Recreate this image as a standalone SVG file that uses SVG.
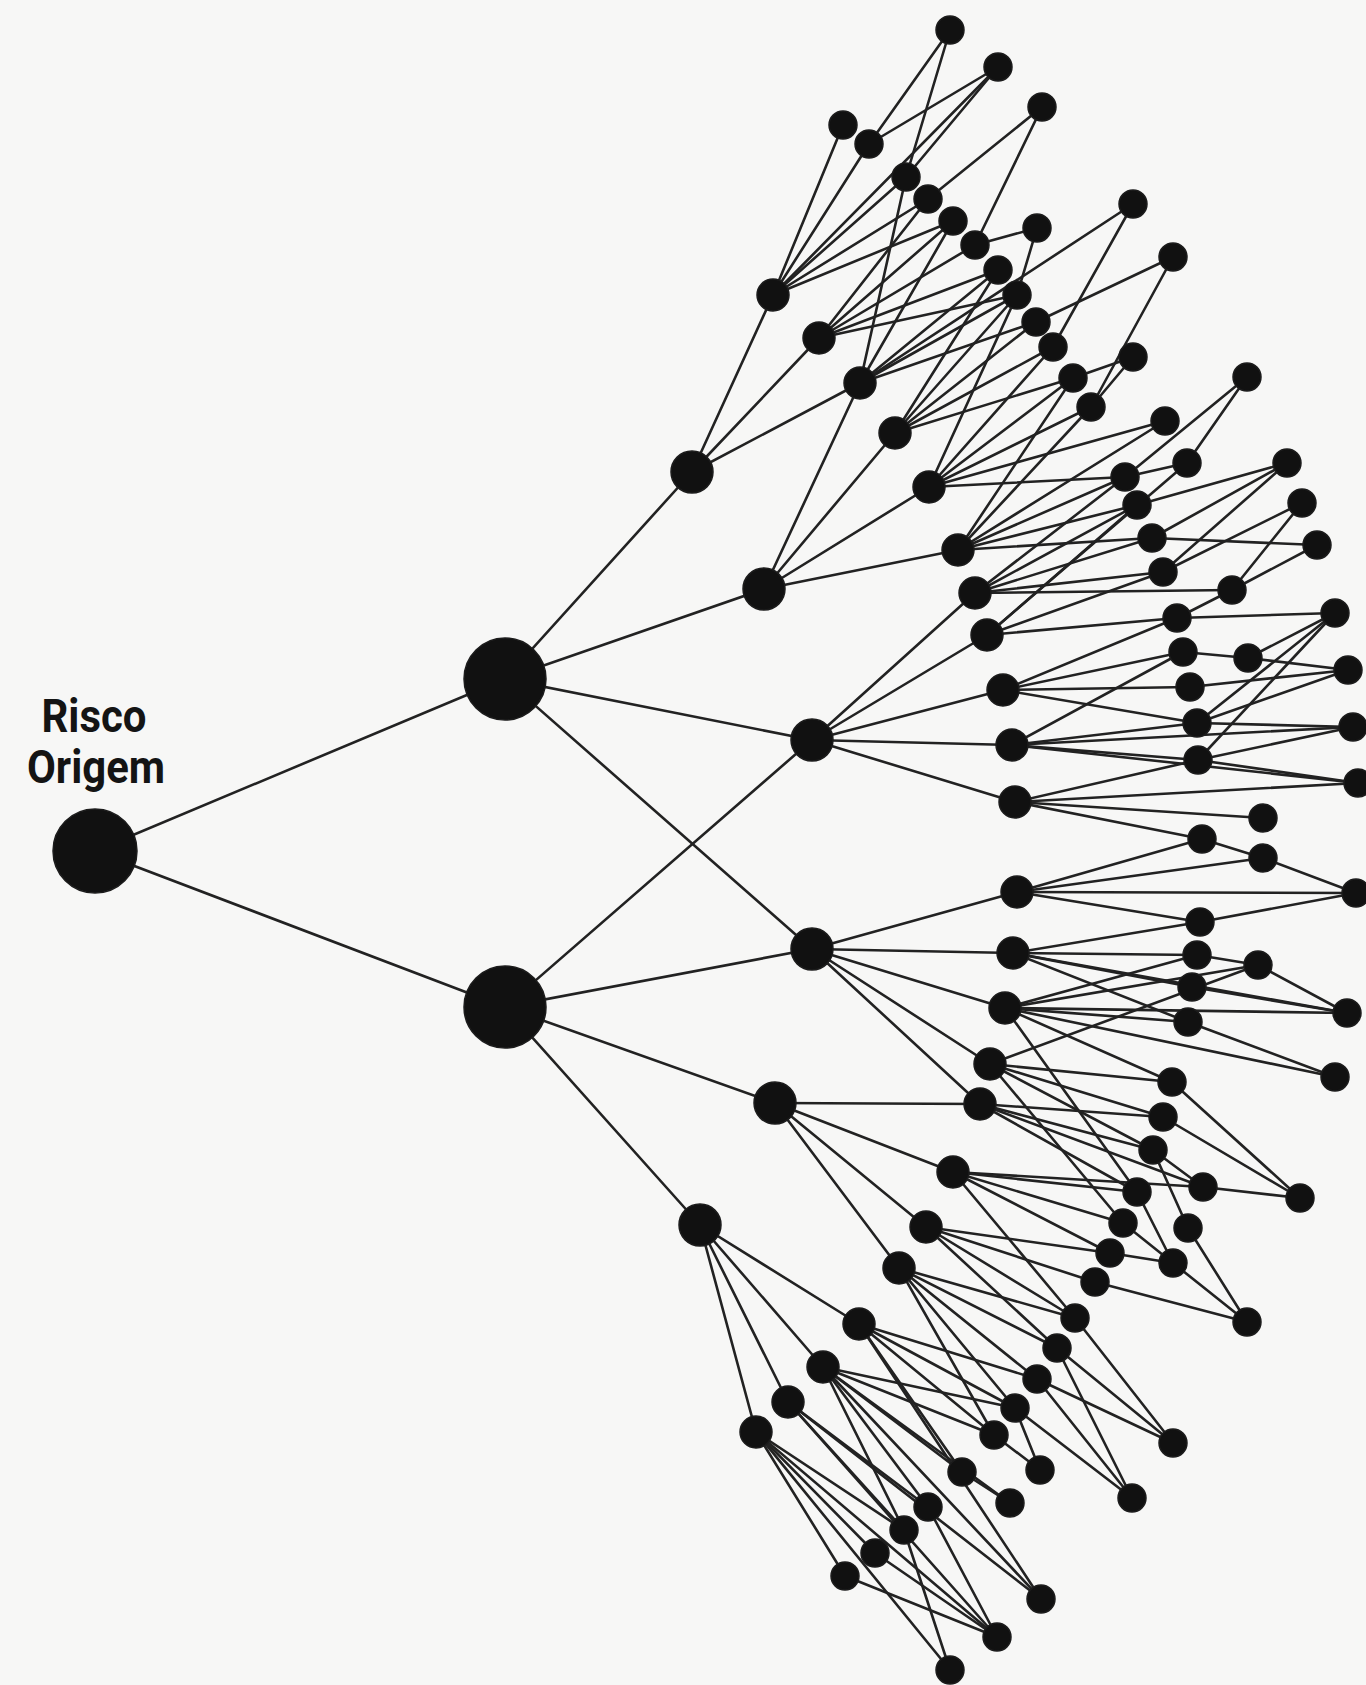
<svg xmlns="http://www.w3.org/2000/svg" width="1366" height="1685" viewBox="0 0 1366 1685">
<style>
.e line{stroke:#222;stroke-width:2.6;stroke-linecap:round}
.n0 circle{fill:#111;stroke:#1c1c1c;stroke-width:1.5}
.lbl{font-family:Roboto,"Liberation Sans",sans-serif;font-weight:700;font-size:46px;fill:#141414;text-anchor:middle}
</style>
<rect width="1366" height="1685" fill="#f7f7f6"/>
<text class="lbl" x="94" y="732" textLength="105" lengthAdjust="spacingAndGlyphs">Risco</text>
<text class="lbl" x="96" y="783" textLength="138" lengthAdjust="spacingAndGlyphs">Origem</text>
<g id="connectors" class="e">
<line x1="95" y1="851" x2="505" y2="679"/><line x1="95" y1="851" x2="505" y2="1007"/>
<line x1="505" y1="679" x2="692" y2="472"/><line x1="505" y1="679" x2="764" y2="589"/><line x1="505" y1="679" x2="812" y2="740"/><line x1="505" y1="679" x2="812" y2="949"/>
<line x1="505" y1="1007" x2="812" y2="740"/><line x1="505" y1="1007" x2="812" y2="949"/><line x1="505" y1="1007" x2="775" y2="1103"/><line x1="505" y1="1007" x2="700" y2="1225"/>
<line x1="692" y1="472" x2="773" y2="295"/><line x1="692" y1="472" x2="819" y2="338"/><line x1="692" y1="472" x2="860" y2="383"/>
<line x1="764" y1="589" x2="860" y2="383"/><line x1="764" y1="589" x2="895" y2="433"/><line x1="764" y1="589" x2="929" y2="487"/><line x1="764" y1="589" x2="958" y2="550"/>
<line x1="812" y1="740" x2="975" y2="593"/><line x1="812" y1="740" x2="987" y2="635"/><line x1="812" y1="740" x2="1003" y2="690"/><line x1="812" y1="740" x2="1012" y2="745"/><line x1="812" y1="740" x2="1015" y2="802"/>
<line x1="812" y1="949" x2="1017" y2="892"/><line x1="812" y1="949" x2="1013" y2="953"/><line x1="812" y1="949" x2="1005" y2="1008"/><line x1="812" y1="949" x2="990" y2="1064"/><line x1="812" y1="949" x2="980" y2="1104"/>
<line x1="775" y1="1103" x2="980" y2="1104"/><line x1="775" y1="1103" x2="953" y2="1172"/><line x1="775" y1="1103" x2="926" y2="1227"/><line x1="775" y1="1103" x2="899" y2="1268"/>
<line x1="700" y1="1225" x2="859" y2="1324"/><line x1="700" y1="1225" x2="823" y2="1367"/><line x1="700" y1="1225" x2="788" y2="1402"/><line x1="700" y1="1225" x2="756" y2="1432"/>
<line x1="773" y1="295" x2="843" y2="125"/><line x1="773" y1="295" x2="869" y2="144"/><line x1="773" y1="295" x2="998" y2="67"/><line x1="773" y1="295" x2="906" y2="177"/><line x1="773" y1="295" x2="928" y2="199"/><line x1="773" y1="295" x2="953" y2="221"/>
<line x1="950" y1="30" x2="869" y2="144"/><line x1="950" y1="30" x2="906" y2="177"/>
<line x1="998" y1="67" x2="869" y2="144"/><line x1="998" y1="67" x2="906" y2="177"/>
<line x1="1042" y1="107" x2="928" y2="199"/><line x1="1042" y1="107" x2="975" y2="245"/>
<line x1="1037" y1="228" x2="975" y2="245"/><line x1="1037" y1="228" x2="1017" y2="295"/>
<line x1="819" y1="338" x2="928" y2="199"/><line x1="819" y1="338" x2="953" y2="221"/><line x1="819" y1="338" x2="975" y2="245"/><line x1="819" y1="338" x2="998" y2="270"/><line x1="819" y1="338" x2="1017" y2="295"/>
<line x1="860" y1="383" x2="906" y2="177"/><line x1="860" y1="383" x2="953" y2="221"/><line x1="860" y1="383" x2="998" y2="270"/><line x1="860" y1="383" x2="1017" y2="295"/><line x1="860" y1="383" x2="1036" y2="322"/><line x1="860" y1="383" x2="1133" y2="204"/>
<line x1="895" y1="433" x2="998" y2="270"/><line x1="895" y1="433" x2="1017" y2="295"/><line x1="895" y1="433" x2="1036" y2="322"/><line x1="895" y1="433" x2="1053" y2="347"/><line x1="895" y1="433" x2="1073" y2="378"/>
<line x1="929" y1="487" x2="1017" y2="295"/><line x1="929" y1="487" x2="1053" y2="347"/><line x1="929" y1="487" x2="1073" y2="378"/><line x1="929" y1="487" x2="1091" y2="407"/><line x1="929" y1="487" x2="1165" y2="421"/><line x1="929" y1="487" x2="1125" y2="477"/>
<line x1="958" y1="550" x2="1073" y2="378"/><line x1="958" y1="550" x2="1091" y2="407"/><line x1="958" y1="550" x2="1165" y2="421"/><line x1="958" y1="550" x2="1125" y2="477"/><line x1="958" y1="550" x2="1137" y2="505"/><line x1="958" y1="550" x2="1152" y2="538"/>
<line x1="1133" y1="204" x2="1053" y2="347"/>
<line x1="1173" y1="257" x2="1036" y2="322"/><line x1="1173" y1="257" x2="1091" y2="407"/>
<line x1="1133" y1="357" x2="1073" y2="378"/><line x1="1133" y1="357" x2="1091" y2="407"/>
<line x1="1247" y1="377" x2="1187" y2="463"/><line x1="1247" y1="377" x2="1125" y2="477"/>
<line x1="1187" y1="463" x2="1125" y2="477"/><line x1="1187" y1="463" x2="987" y2="635"/>
<line x1="975" y1="593" x2="1125" y2="477"/><line x1="975" y1="593" x2="1137" y2="505"/><line x1="975" y1="593" x2="1152" y2="538"/><line x1="975" y1="593" x2="1163" y2="572"/><line x1="975" y1="593" x2="1232" y2="590"/>
<line x1="987" y1="635" x2="1137" y2="505"/><line x1="987" y1="635" x2="1163" y2="572"/><line x1="987" y1="635" x2="1177" y2="618"/>
<line x1="1287" y1="463" x2="1137" y2="505"/><line x1="1287" y1="463" x2="1152" y2="538"/><line x1="1287" y1="463" x2="1163" y2="572"/>
<line x1="1302" y1="503" x2="1163" y2="572"/><line x1="1302" y1="503" x2="1232" y2="590"/>
<line x1="1317" y1="545" x2="1152" y2="538"/><line x1="1317" y1="545" x2="1232" y2="590"/>
<line x1="1232" y1="590" x2="1177" y2="618"/>
<line x1="1003" y1="690" x2="1177" y2="618"/><line x1="1003" y1="690" x2="1183" y2="652"/><line x1="1003" y1="690" x2="1190" y2="687"/><line x1="1003" y1="690" x2="1197" y2="723"/>
<line x1="1012" y1="745" x2="1183" y2="652"/><line x1="1012" y1="745" x2="1197" y2="723"/><line x1="1012" y1="745" x2="1198" y2="760"/><line x1="1012" y1="745" x2="1353" y2="727"/><line x1="1012" y1="745" x2="1358" y2="783"/>
<line x1="1015" y1="802" x2="1198" y2="760"/><line x1="1015" y1="802" x2="1263" y2="818"/><line x1="1015" y1="802" x2="1202" y2="839"/><line x1="1015" y1="802" x2="1358" y2="783"/>
<line x1="1335" y1="613" x2="1177" y2="618"/><line x1="1335" y1="613" x2="1248" y2="658"/><line x1="1335" y1="613" x2="1197" y2="723"/><line x1="1335" y1="613" x2="1198" y2="760"/>
<line x1="1348" y1="670" x2="1248" y2="658"/><line x1="1348" y1="670" x2="1197" y2="723"/><line x1="1348" y1="670" x2="1190" y2="687"/>
<line x1="1248" y1="658" x2="1183" y2="652"/>
<line x1="1353" y1="727" x2="1197" y2="723"/><line x1="1353" y1="727" x2="1198" y2="760"/>
<line x1="1358" y1="783" x2="1198" y2="760"/>
<line x1="1017" y1="892" x2="1202" y2="839"/><line x1="1017" y1="892" x2="1263" y2="858"/><line x1="1017" y1="892" x2="1356" y2="893"/><line x1="1017" y1="892" x2="1200" y2="922"/>
<line x1="1202" y1="839" x2="1263" y2="858"/><line x1="1263" y1="858" x2="1356" y2="893"/><line x1="1200" y1="922" x2="1356" y2="893"/>
<line x1="1013" y1="953" x2="1200" y2="922"/><line x1="1013" y1="953" x2="1197" y2="955"/><line x1="1013" y1="953" x2="1192" y2="987"/><line x1="1013" y1="953" x2="1188" y2="1022"/><line x1="1013" y1="953" x2="1347" y2="1013"/>
<line x1="1005" y1="1008" x2="1197" y2="955"/><line x1="1005" y1="1008" x2="1258" y2="965"/><line x1="1005" y1="1008" x2="1188" y2="1022"/><line x1="1005" y1="1008" x2="1347" y2="1013"/><line x1="1005" y1="1008" x2="1335" y2="1077"/><line x1="1005" y1="1008" x2="1172" y2="1082"/><line x1="1005" y1="1008" x2="1137" y2="1192"/>
<line x1="990" y1="1064" x2="1258" y2="965"/><line x1="990" y1="1064" x2="1172" y2="1082"/><line x1="990" y1="1064" x2="1163" y2="1117"/><line x1="990" y1="1064" x2="1153" y2="1150"/><line x1="990" y1="1064" x2="1123" y2="1223"/>
<line x1="980" y1="1104" x2="1163" y2="1117"/><line x1="980" y1="1104" x2="1153" y2="1150"/><line x1="980" y1="1104" x2="1137" y2="1192"/><line x1="980" y1="1104" x2="1203" y2="1187"/>
<line x1="1258" y1="965" x2="1197" y2="955"/><line x1="1258" y1="965" x2="1347" y2="1013"/><line x1="1192" y1="987" x2="1347" y2="1013"/><line x1="1188" y1="1022" x2="1335" y2="1077"/>
<line x1="1300" y1="1198" x2="1172" y2="1082"/><line x1="1300" y1="1198" x2="1163" y2="1117"/><line x1="1300" y1="1198" x2="1203" y2="1187"/>
<line x1="1153" y1="1150" x2="1203" y2="1187"/><line x1="1153" y1="1150" x2="1188" y2="1228"/>
<line x1="953" y1="1172" x2="1203" y2="1187"/><line x1="953" y1="1172" x2="1137" y2="1192"/><line x1="953" y1="1172" x2="1123" y2="1223"/><line x1="953" y1="1172" x2="1110" y2="1253"/><line x1="953" y1="1172" x2="1075" y2="1318"/>
<line x1="926" y1="1227" x2="1110" y2="1253"/><line x1="926" y1="1227" x2="1095" y2="1282"/><line x1="926" y1="1227" x2="1075" y2="1318"/><line x1="926" y1="1227" x2="1057" y2="1348"/>
<line x1="899" y1="1268" x2="1075" y2="1318"/><line x1="899" y1="1268" x2="1057" y2="1348"/><line x1="899" y1="1268" x2="1037" y2="1379"/><line x1="899" y1="1268" x2="1015" y2="1408"/><line x1="899" y1="1268" x2="994" y2="1435"/>
<line x1="859" y1="1324" x2="1037" y2="1379"/><line x1="859" y1="1324" x2="1015" y2="1408"/><line x1="859" y1="1324" x2="994" y2="1435"/><line x1="859" y1="1324" x2="962" y2="1472"/><line x1="859" y1="1324" x2="1041" y2="1599"/>
<line x1="823" y1="1367" x2="1015" y2="1408"/><line x1="823" y1="1367" x2="994" y2="1435"/><line x1="823" y1="1367" x2="962" y2="1472"/><line x1="823" y1="1367" x2="1010" y2="1503"/><line x1="823" y1="1367" x2="928" y2="1507"/><line x1="823" y1="1367" x2="904" y2="1530"/><line x1="823" y1="1367" x2="1041" y2="1599"/>
<line x1="788" y1="1402" x2="928" y2="1507"/><line x1="788" y1="1402" x2="904" y2="1530"/><line x1="788" y1="1402" x2="997" y2="1637"/><line x1="788" y1="1402" x2="1041" y2="1599"/>
<line x1="756" y1="1432" x2="904" y2="1530"/><line x1="756" y1="1432" x2="875" y2="1553"/><line x1="756" y1="1432" x2="845" y2="1576"/><line x1="756" y1="1432" x2="950" y2="1670"/><line x1="756" y1="1432" x2="997" y2="1637"/>
<line x1="962" y1="1472" x2="1010" y2="1503"/><line x1="928" y1="1507" x2="997" y2="1637"/><line x1="904" y1="1530" x2="950" y2="1670"/><line x1="875" y1="1553" x2="997" y2="1637"/><line x1="845" y1="1576" x2="997" y2="1637"/>
<line x1="1110" y1="1253" x2="1173" y2="1263"/><line x1="1137" y1="1192" x2="1173" y2="1263"/><line x1="1123" y1="1223" x2="1173" y2="1263"/>
<line x1="1247" y1="1322" x2="1095" y2="1282"/><line x1="1247" y1="1322" x2="1173" y2="1263"/><line x1="1247" y1="1322" x2="1188" y2="1228"/>
<line x1="1173" y1="1443" x2="1075" y2="1318"/><line x1="1173" y1="1443" x2="1057" y2="1348"/><line x1="1173" y1="1443" x2="1037" y2="1379"/>
<line x1="1132" y1="1498" x2="1057" y2="1348"/><line x1="1132" y1="1498" x2="1037" y2="1379"/><line x1="1132" y1="1498" x2="1015" y2="1408"/>
<line x1="1040" y1="1470" x2="1015" y2="1408"/><line x1="1040" y1="1470" x2="994" y2="1435"/>
</g>
<g id="nodes" class="n0">
<g id="root"><circle cx="95" cy="851" r="42"/></g>
<g id="L1-upper"><circle cx="505" cy="679" r="41"/></g>
<g id="L1-lower"><circle cx="505" cy="1007" r="41"/></g>
<g id="A"><circle cx="692" cy="472" r="21"/></g>
<g id="B"><circle cx="764" cy="589" r="21"/></g>
<g id="C"><circle cx="812" cy="740" r="21"/></g>
<g id="D"><circle cx="812" cy="949" r="21"/></g>
<g id="E"><circle cx="775" cy="1103" r="21"/></g>
<g id="F"><circle cx="700" cy="1225" r="21"/></g>
<g id="a1"><circle cx="773" cy="295" r="16"/></g>
<g id="a2"><circle cx="819" cy="338" r="16"/></g>
<g id="a3"><circle cx="860" cy="383" r="16"/></g>
<g id="b1"><circle cx="895" cy="433" r="16"/></g>
<g id="b2"><circle cx="929" cy="487" r="16"/></g>
<g id="b3"><circle cx="958" cy="550" r="16"/></g>
<g id="c1"><circle cx="975" cy="593" r="16"/></g>
<g id="c2"><circle cx="987" cy="635" r="16"/></g>
<g id="c3"><circle cx="1003" cy="690" r="16"/></g>
<g id="c4"><circle cx="1012" cy="745" r="16"/></g>
<g id="c5"><circle cx="1015" cy="802" r="16"/></g>
<g id="d1"><circle cx="1017" cy="892" r="16"/></g>
<g id="d2"><circle cx="1013" cy="953" r="16"/></g>
<g id="d3"><circle cx="1005" cy="1008" r="16"/></g>
<g id="d4"><circle cx="990" cy="1064" r="16"/></g>
<g id="d5"><circle cx="980" cy="1104" r="16"/></g>
<g id="e2"><circle cx="953" cy="1172" r="16"/></g>
<g id="e3"><circle cx="926" cy="1227" r="16"/></g>
<g id="e4"><circle cx="899" cy="1268" r="16"/></g>
<g id="f1"><circle cx="859" cy="1324" r="16"/></g>
<g id="f2"><circle cx="823" cy="1367" r="16"/></g>
<g id="f3"><circle cx="788" cy="1402" r="16"/></g>
<g id="f4"><circle cx="756" cy="1432" r="16"/></g>
<g id="t1"><circle cx="950" cy="30" r="14"/></g>
<g id="t2"><circle cx="998" cy="67" r="14"/></g>
<g id="t3"><circle cx="1042" cy="107" r="14"/></g>
<g id="t4"><circle cx="843" cy="125" r="14"/></g>
<g id="t5"><circle cx="869" cy="144" r="14"/></g>
<g id="t6"><circle cx="906" cy="177" r="14"/></g>
<g id="t7"><circle cx="928" cy="199" r="14"/></g>
<g id="t8"><circle cx="953" cy="221" r="14"/></g>
<g id="t9"><circle cx="975" cy="245" r="14"/></g>
<g id="t10"><circle cx="998" cy="270" r="14"/></g>
<g id="t11"><circle cx="1017" cy="295" r="14"/></g>
<g id="t12"><circle cx="1036" cy="322" r="14"/></g>
<g id="t13"><circle cx="1053" cy="347" r="14"/></g>
<g id="t14"><circle cx="1073" cy="378" r="14"/></g>
<g id="t15"><circle cx="1091" cy="407" r="14"/></g>
<g id="t16"><circle cx="1037" cy="228" r="14"/></g>
<g id="t17"><circle cx="1133" cy="204" r="14"/></g>
<g id="t18"><circle cx="1173" cy="257" r="14"/></g>
<g id="t19"><circle cx="1133" cy="357" r="14"/></g>
<g id="t20"><circle cx="1247" cy="377" r="14"/></g>
<g id="t21"><circle cx="1165" cy="421" r="14"/></g>
<g id="m1"><circle cx="1187" cy="463" r="14"/></g>
<g id="m2"><circle cx="1125" cy="477" r="14"/></g>
<g id="m3"><circle cx="1137" cy="505" r="14"/></g>
<g id="m4"><circle cx="1152" cy="538" r="14"/></g>
<g id="m5"><circle cx="1163" cy="572" r="14"/></g>
<g id="m6"><circle cx="1232" cy="590" r="14"/></g>
<g id="m7"><circle cx="1177" cy="618" r="14"/></g>
<g id="m8"><circle cx="1183" cy="652" r="14"/></g>
<g id="m9"><circle cx="1190" cy="687" r="14"/></g>
<g id="m10"><circle cx="1197" cy="723" r="14"/></g>
<g id="m11"><circle cx="1198" cy="760" r="14"/></g>
<g id="m12"><circle cx="1248" cy="658" r="14"/></g>
<g id="m13"><circle cx="1263" cy="818" r="14"/></g>
<g id="m14"><circle cx="1202" cy="839" r="14"/></g>
<g id="m15"><circle cx="1263" cy="858" r="14"/></g>
<g id="r1"><circle cx="1287" cy="463" r="14"/></g>
<g id="r2"><circle cx="1302" cy="503" r="14"/></g>
<g id="r3"><circle cx="1317" cy="545" r="14"/></g>
<g id="r4"><circle cx="1335" cy="613" r="14"/></g>
<g id="r5"><circle cx="1348" cy="670" r="14"/></g>
<g id="r6"><circle cx="1353" cy="727" r="14"/></g>
<g id="r7"><circle cx="1358" cy="783" r="14"/></g>
<g id="r8"><circle cx="1356" cy="893" r="14"/></g>
<g id="r9"><circle cx="1347" cy="1013" r="14"/></g>
<g id="r10"><circle cx="1335" cy="1077" r="14"/></g>
<g id="r11"><circle cx="1300" cy="1198" r="14"/></g>
<g id="r12"><circle cx="1247" cy="1322" r="14"/></g>
<g id="r13"><circle cx="1173" cy="1443" r="14"/></g>
<g id="r14"><circle cx="1132" cy="1498" r="14"/></g>
<g id="n1"><circle cx="1200" cy="922" r="14"/></g>
<g id="n2"><circle cx="1197" cy="955" r="14"/></g>
<g id="n3"><circle cx="1258" cy="965" r="14"/></g>
<g id="n4"><circle cx="1192" cy="987" r="14"/></g>
<g id="n5"><circle cx="1188" cy="1022" r="14"/></g>
<g id="n6"><circle cx="1172" cy="1082" r="14"/></g>
<g id="n7"><circle cx="1163" cy="1117" r="14"/></g>
<g id="n8"><circle cx="1153" cy="1150" r="14"/></g>
<g id="n9"><circle cx="1203" cy="1187" r="14"/></g>
<g id="n10"><circle cx="1137" cy="1192" r="14"/></g>
<g id="n11"><circle cx="1123" cy="1223" r="14"/></g>
<g id="n12"><circle cx="1188" cy="1228" r="14"/></g>
<g id="n13"><circle cx="1110" cy="1253" r="14"/></g>
<g id="n14"><circle cx="1173" cy="1263" r="14"/></g>
<g id="n15"><circle cx="1095" cy="1282" r="14"/></g>
<g id="o1"><circle cx="1075" cy="1318" r="14"/></g>
<g id="o2"><circle cx="1057" cy="1348" r="14"/></g>
<g id="o3"><circle cx="1037" cy="1379" r="14"/></g>
<g id="o4"><circle cx="1015" cy="1408" r="14"/></g>
<g id="o5"><circle cx="994" cy="1435" r="14"/></g>
<g id="o6"><circle cx="962" cy="1472" r="14"/></g>
<g id="o7"><circle cx="1040" cy="1470" r="14"/></g>
<g id="o8"><circle cx="1010" cy="1503" r="14"/></g>
<g id="o9"><circle cx="928" cy="1507" r="14"/></g>
<g id="o10"><circle cx="904" cy="1530" r="14"/></g>
<g id="o11"><circle cx="875" cy="1553" r="14"/></g>
<g id="o12"><circle cx="845" cy="1576" r="14"/></g>
<g id="o13"><circle cx="1041" cy="1599" r="14"/></g>
<g id="o14"><circle cx="997" cy="1637" r="14"/></g>
<g id="o15"><circle cx="950" cy="1670" r="14"/></g>
</g>
</svg>
